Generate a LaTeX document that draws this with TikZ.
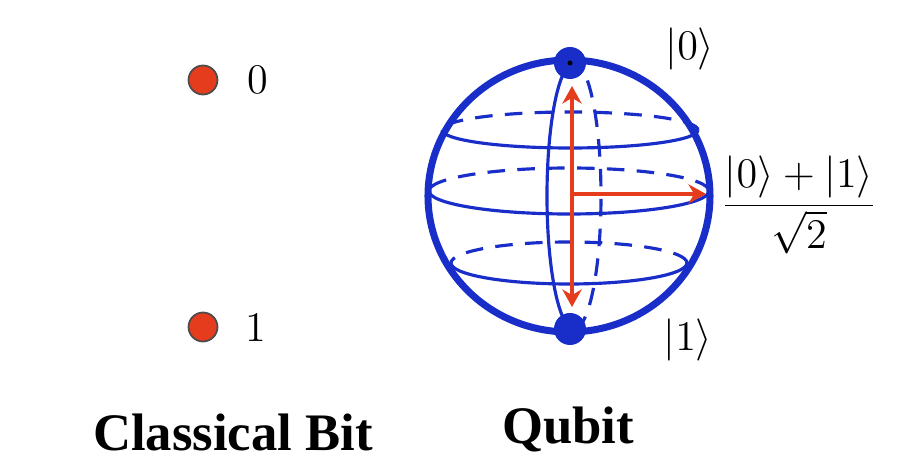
\documentclass[tikz,border=0pt]{standalone}
\usepackage{fontspec}
\newfontfamily\titlefont{Liberation Serif}
\usetikzlibrary{arrows.meta}
\definecolor{sb}{RGB}{25,45,200}
\definecolor{rd}{RGB}{230,60,30}
\tikzset{lat/.style={sb,line width=0.9pt},
 back/.style={lat,dash pattern=on 5pt off 3.5pt},
 vec/.style={rd,line width=1.2pt,-{Stealth[length=5pt,width=5.5pt]}},
 bit/.style={circle,fill=rd,draw=black!70,line width=0.5pt,minimum size=0.29cm,inner sep=0},
 pole/.style={circle,fill=sb,minimum size=0.32cm,inner sep=0},
 ttl/.style={font=\titlefont\bfseries\fontsize{15}{18}\selectfont}}
\begin{document}
\begin{tikzpicture}
\useasboundingbox (0,0) rectangle (9.14,4.76);
% classical bit
\node[bit] (b0) at (2.03,3.96) {};
\node[bit] (b1) at (2.03,1.49) {};
\node (l0) at (2.58,3.96) {\fontsize{12}{14}\selectfont 0};
\node (l1) at (2.56,1.49) {\fontsize{12}{14}\selectfont 1};
\node[ttl] (t1) at (2.33,0.44) {Classical Bit};
\node[ttl] (t2) at (5.68,0.47) {Qubit};
% sphere
\coordinate (c) at (5.69,2.80);
\draw[back] (5.70,3.46) ++(1.28,0) arc[start angle=0,end angle=180,x radius=1.28,y radius=0.18];
\draw[lat] (5.70,3.46) ++(-1.28,0) arc[start angle=180,end angle=360,x radius=1.28,y radius=0.18];
\draw[back] (5.69,2.85) ++(1.40,0) arc[start angle=0,end angle=180,x radius=1.40,y radius=0.23];
\draw[lat] (5.69,2.85) ++(-1.40,0) arc[start angle=180,end angle=360,x radius=1.40,y radius=0.23];
\draw[back] (5.69,2.13) ++(1.18,0) arc[start angle=0,end angle=180,x radius=1.18,y radius=0.21];
\draw[lat] (5.69,2.13) ++(-1.18,0) arc[start angle=180,end angle=360,x radius=1.18,y radius=0.21];
\draw[lat] (5.74,2.80) ++(0,1.33) arc[start angle=90,end angle=270,x radius=0.27,y radius=1.33];
\draw[back] (5.74,2.80) ++(0,-1.33) arc[start angle=-90,end angle=90,x radius=0.27,y radius=1.33];
\draw[sb,line width=2pt] (c) ellipse[x radius=1.41,y radius=1.36];
\node[pole] (p0) at (5.70,4.13) {};
\fill[black] (p0.center) circle (0.025);
\node[pole] (p1) at (5.70,1.47) {};
\coordinate (vt) at (5.72,3.90);
\coordinate (vb) at (5.72,1.69);
\coordinate (vo) at (5.72,2.82);
\coordinate (vr) at (7.06,2.82);
\draw[vec,{Stealth[length=5pt,width=5.5pt]}-{Stealth[length=5pt,width=5.5pt]}] (vt) -- (vb);
\draw[vec] (vo) -- (vr);
\node (k0) at (6.90,4.27) {\fontsize{12}{14}\selectfont$|0\rangle$};
\node (k1) at (6.88,1.36) {\fontsize{12}{14}\selectfont$|1\rangle$};
\node (kf) at (7.99,2.71) {\fontsize{12}{14}\selectfont$\displaystyle\frac{|0\rangle+|1\rangle}{\sqrt{2}}$};
\end{tikzpicture}
\end{document}
